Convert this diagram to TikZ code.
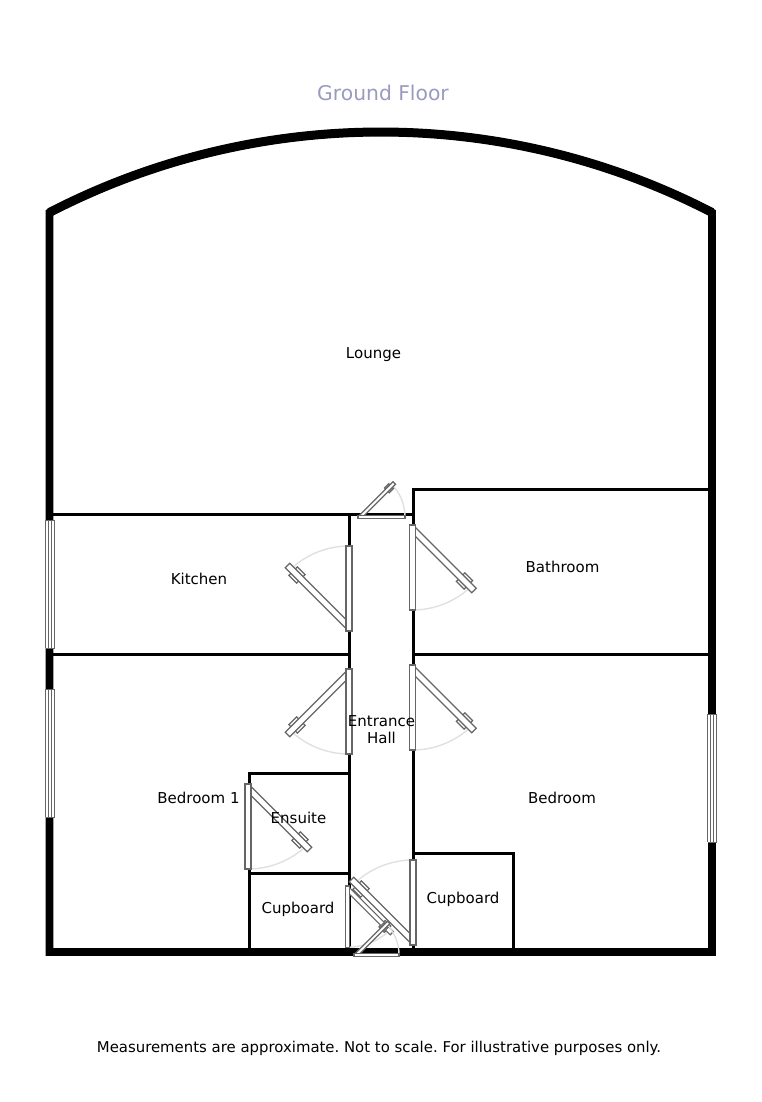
\documentclass[tikz,border=0pt]{standalone}
\usepackage{fontspec}
\setmainfont{DejaVu Sans}
\frenchspacing
\definecolor{titleblue}{HTML}{9A9ABF}
\definecolor{doorgrey}{HTML}{666666}
\definecolor{swinggrey}{HTML}{E0E0E0}
\tikzset{
  outerwall/.style={draw=black,line width=7.8pt,miter limit=10},
  roofwall/.style={draw=black,line width=9pt},
  innerwall/.style={draw=black,line width=3pt},
  doorpart/.style={draw=doorgrey,fill=white,line width=1.2pt},
  doorswing/.style={draw=swinggrey,line width=1.4pt},
  winline/.style={draw=doorgrey,line width=.9pt},
  roomlabel/.style={font=\fontsize{15}{17}\selectfont,text=black,inner sep=0pt,text height=11pt,text depth=0pt},
}
% x, y, rotation, mirror (+1/-1), scale
\newcommand{\doorsym}[5]{%
  \begin{scope}[shift={(#1,#2)},rotate=#3,x=1pt,y=1pt,yscale=#4,scale=#5]
    \draw[doorswing] (85,0) arc[start angle=0,end angle=45,radius=85];
    \begin{scope}[shift={(4,0)},rotate=45]
      \draw[doorpart] (68,3) rectangle (79,6);
      \draw[doorpart] (68,-3) rectangle (79,-6);
      \draw[doorpart] (0,-3.2) rectangle (87,3.2);
    \end{scope}
    \draw[doorpart] (0,-3) rectangle (85,3);
  \end{scope}}
\newcommand{\winsym}[3]{%
  \fill[white] (#1-4.5,#2) rectangle (#1+4.5,#3);
  \foreach \d in {-4.5,-1.5,1.5,4.5} \draw[winline] (#1+\d,#2) -- (#1+\d,#3);
  \draw[winline] (#1-4.5,#2) -- (#1+4.5,#2) (#1-4.5,#3) -- (#1+4.5,#3);}
\begin{document}
\begin{tikzpicture}[x=1pt,y=-1pt]
\useasboundingbox (0,0) rectangle (762,1102);
% walls
\draw[innerwall] (50,514.5) -- (413,514.5);
\draw[innerwall] (50,654) -- (349,654);
\draw[innerwall] (413,654) -- (712,654);
\draw[innerwall] (349,514.5) -- (349,952);
\draw[innerwall] (413,952) -- (413,489.5) -- (712,489.5);
\draw[innerwall] (249,952) -- (249,773) -- (349,773);
\draw[innerwall] (249,873) -- (349,873);
\draw[innerwall] (413,853) -- (513,853) -- (513,952);
\draw[outerwall] (49.5,212.5) .. controls (257,105.2) and (504.5,105.2) .. (712,212.5) -- (712,952) -- (49.5,952) -- cycle;
\draw[roofwall] (49.5,212.5) .. controls (257,105.2) and (504.5,105.2) .. (712,212.5);
% windows
\winsym{50}{520}{648}
\winsym{50}{689}{817}
\winsym{712}{714}{842}
% doors
\doorsym{349}{631}{90}{1}{1}
\doorsym{412.5}{525}{-90}{1}{1}
\doorsym{349}{669}{-90}{-1}{1}
\doorsym{412.5}{665}{-90}{1}{1}
\doorsym{248}{784}{-90}{1}{1}
\doorsym{413}{945}{90}{1}{1}
\doorsym{347.5}{886}{-90}{1}{.72}
\doorsym{354}{955}{0}{1}{.53}
\doorsym{358}{517}{0}{1}{.553}
% labels
\node[font=\fontsize{20.3}{24}\selectfont,text=titleblue,inner sep=0pt,text height=15pt,text depth=0pt] (title) at (383,93) {Ground Floor};
\node[roomlabel] (lounge) at (373.5,353.4) {Lounge};
\node[roomlabel] (kitchen) at (199,579.4) {Kitchen};
\node[roomlabel] (bathroom) at (562.5,567.4) {Bathroom};
\node[font=\fontsize{15}{17}\selectfont,align=center,inner sep=0pt] (hall) at (381.5,729.4) {Entrance\\Hall};
\node[roomlabel] (bedroomone) at (198.5,798.4) {Bedroom 1};
\node[roomlabel] (bedroom) at (562,798.4) {Bedroom};
\node[roomlabel] (ensuite) at (298.5,818.4) {Ensuite};
\node[roomlabel] (cupboardl) at (298,907.9) {Cupboard};
\node[roomlabel] (cupboardr) at (463,898.4) {Cupboard};
\node[roomlabel,font=\fontsize{14.9}{17}\selectfont] (footer) at (379,1047.4) {Measurements are approximate. Not to scale. For illustrative purposes only.};
\end{tikzpicture}
\end{document}
